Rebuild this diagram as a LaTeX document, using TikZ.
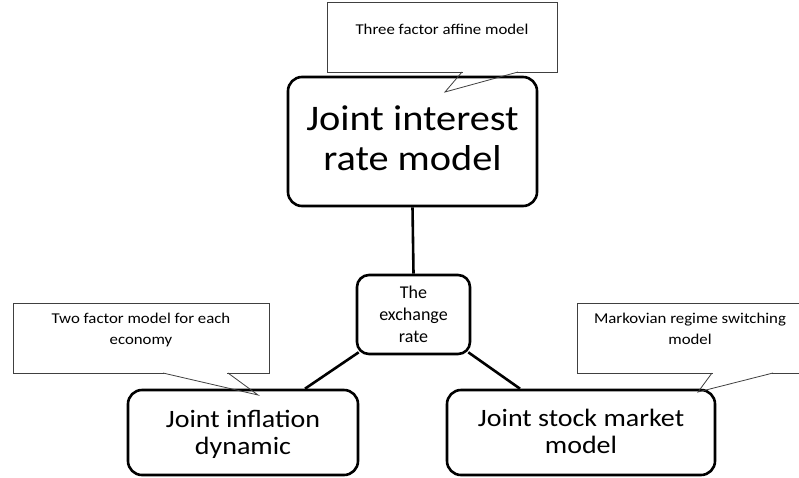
\documentclass[tikz,border=0pt]{standalone}
\usepackage{fontspec}
\setmainfont{Carlito}
\newfontfamily\widefont[FakeStretch=1.12]{Carlito}
\begin{document}
\begin{tikzpicture}[x=1pt,y=-1pt,
  mainbox/.style={draw, line width=2.6pt, rounded corners=14pt, inner sep=0pt},
  maintext/.style={align=center, inner sep=0pt},
  callbox/.style={draw=black!75, line width=0.8pt, fill=white, inner sep=0pt},
  calltext/.style={align=center, inner sep=0pt, font=\widefont\fontsize{15}{21}\selectfont},
  link/.style={line width=2.6pt},
  ptr/.style={draw=black!75, line width=0.8pt, line join=miter}]
\clip (0,0) rectangle (799,477);
\fill[white] (0,0) rectangle (799,477);

% main boxes
\node[mainbox, minimum width=249pt, minimum height=129pt] (ir) at (412.5,141.5) {};
\node[maintext, font=\widefont\fontsize{36}{40}\selectfont] (irt) at (412.5,138) {Joint interest\\rate model};

\node[mainbox, minimum width=113pt, minimum height=79pt, rounded corners=12pt] (ex) at (413.5,314.5) {};
\node[maintext, font=\fontsize{18}{22}\selectfont] (ext) at (413.5,314) {The\\exchange\\rate};

\node[mainbox, minimum width=230pt, minimum height=85pt] (inf) at (243,432.5) {};
\node[maintext, font=\widefont\fontsize{25}{27}\selectfont] (inft) at (243,434) {Joint inflation\\dynamic};

\node[mainbox, minimum width=268pt, minimum height=85pt] (sm) at (581,432.5) {};
\node[maintext, font=\widefont\fontsize{25}{27}\selectfont] (smt) at (581,431) {Joint stock market\\model};

% connectors
\draw[link] (ir.south) -- (ex.north);
\draw[link] ([shift={(3pt,3pt)}]ex.south west) -- ([xshift=62pt]inf.north);
\draw[link] ([shift={(-3pt,3pt)}]ex.south east) -- ([xshift=-61pt]sm.north);

% callout: top
\node[callbox, minimum width=230pt, minimum height=70pt] (c1) at (442,37) {};
\node[calltext] (c1t) at (442,29) {Three factor affine model};
\coordinate (c1a) at (462,72);
\coordinate (c1b) at (518,72);
\coordinate (c1p) at (445,92);
\draw[white, line width=1.4pt] ([xshift=0.6pt]c1a) -- ([xshift=-0.6pt]c1b);
\draw[ptr] (c1a) -- (c1p) -- (c1b);

% callout: left
\node[callbox, minimum width=256pt, minimum height=70pt] (c2) at (141,338) {};
\node[calltext] (c2t) at (141,330) {Two factor model for each\\economy};
\coordinate (c2a) at (163,373);
\coordinate (c2b) at (228,373);
\coordinate (c2p) at (258,395);
\draw[white, line width=1.4pt] ([xshift=0.6pt]c2a) -- ([xshift=-0.6pt]c2b);
\draw[ptr] (c2a) -- (c2p) -- (c2b);

% callout: right
\node[callbox, minimum width=233pt, minimum height=70pt] (c3) at (693.5,338) {};
\node[calltext] (c3t) at (690,329) {Markovian regime switching\\model};
\coordinate (c3a) at (712,373);
\coordinate (c3b) at (773,373);
\coordinate (c3p) at (698,392);
\draw[white, line width=1.4pt] ([xshift=0.6pt]c3a) -- ([xshift=-0.6pt]c3b);
\draw[ptr] (c3a) -- (c3p) -- (c3b);
\end{tikzpicture}
\end{document}
